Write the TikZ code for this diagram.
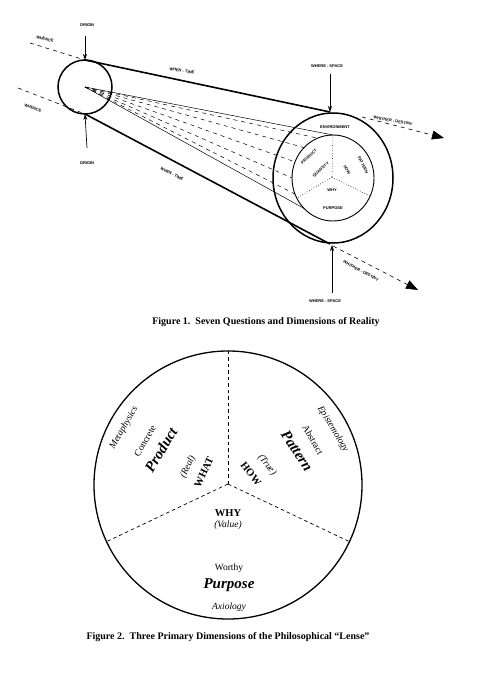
\documentclass[tikz,border=0pt]{standalone}
\usepackage{fontspec}
\setmainfont{Liberation Serif}
\newfontfamily\lsans{Liberation Sans}
\usetikzlibrary{arrows.meta,calc}
\tikzset{
  tiny/.style={font=\lsans\fontsize{4}{4}\selectfont\bfseries, inner sep=0pt},
  thickln/.style={line width=1.6pt},
  thinln/.style={line width=0.5pt},
  dash1/.style={line width=0.6pt, dash pattern=on 4pt off 4pt},
  bigtip/.style={-{Triangle[length=12pt,width=9pt]}},
  smalltip/.style={-{Stealth[length=6pt,width=4pt]}},
  lab/.style={inner sep=0pt, font=\fontsize{9.5}{9.5}\selectfont},
  itlab/.style={inner sep=0pt, font=\fontsize{9.5}{9.5}\selectfont\itshape},
  bflab/.style={inner sep=0pt, font=\fontsize{10.5}{10.5}\selectfont\bfseries},
  biglab/.style={inner sep=0pt, font=\fontsize{15}{15}\selectfont\bfseries\itshape},
  caption/.style={inner sep=0pt, font=\fontsize{10}{10}\selectfont\bfseries}
}
\begin{document}
\begin{tikzpicture}[x=1pt,y=-1pt]
\useasboundingbox (0,0) rectangle (499,674);
% ---------------- Figure 1 ----------------
\coordinate (S) at (85,87);
\coordinate (B) at (333,178);
\coordinate (Bc) at (332,177);
\draw[line width=1.5pt] (S) circle [radius=27pt];
\draw[line width=1.5pt] (B) ellipse [x radius=60pt, y radius=65pt];
\draw[line width=0.9pt] (B) ellipse [x radius=41pt, y radius=43pt];
% tangent lines
\coordinate (St) at (85,60);
\coordinate (Sb) at (85,114);
\coordinate (Bt) at (330,112);
\coordinate (Bb) at (330,244);
\draw[thickln] (St) -- (Bt);
\draw[thickln] (Sb) -- (Bb);
% whence / whither
\coordinate (Wh1) at (30,43);
\coordinate (Wh2) at (18,88);
\coordinate (Wt1s) at (362,117);
\coordinate (Wt1e) at (444,138);
\coordinate (Wt2s) at (333,246);
\coordinate (Wt2e) at (418,290);
\draw[dash1] (Wh1) -- (St);
\draw[dash1] (Wh2) -- (Sb);
\draw[dash1,bigtip] (Wt1s) -- (Wt1e);
\draw[dash1,bigtip] (Wt2s) -- (Wt2e);
% cone
\coordinate (I90) at ($(B)+(90:41pt and 43pt)$);
\coordinate (I112) at ($(B)+(112:41pt and 43pt)$);
\coordinate (I135) at ($(B)+(135:41pt and 43pt)$);
\coordinate (I158) at ($(B)+(158:41pt and 43pt)$);
\coordinate (I180) at ($(B)+(180:41pt and 43pt)$);
\coordinate (I202) at ($(B)+(202:41pt and 43pt)$);
\coordinate (I225) at ($(B)+(225:41pt and 43pt)$);
\draw[thinln] (S) -- (I90);
\draw[thinln] (S) -- (I225);
\foreach \p in {I112,I135,I158,I180,I202}
  \draw[dash1, line width=0.5pt] (S) -- (\p);
% inner dividers
\coordinate (Ia) at ($(B)+(208:41pt and 43pt)$);
\coordinate (Ib) at ($(B)+(335:41pt and 43pt)$);
\draw[dotted, line width=0.6pt] (Bc) -- (I90);
\draw[dotted, line width=0.6pt] (Bc) -- (Ia);
\draw[dotted, line width=0.6pt] (Bc) -- (Ib);
% origin arrows
\node[tiny] (o1) at (87,25) {ORIGIN};
\node[tiny] (o2) at (87,163) {ORIGIN};
\coordinate (o1s) at (85,36);
\coordinate (o2s) at (87,148);
\draw[line width=0.7pt, smalltip] (o1s) -- (St);
\draw[line width=0.7pt, smalltip] (o2s) -- (Sb);
% where arrows
\node[tiny] (w1) at (327,66) {WHERE - SPACE};
\node[tiny] (w2) at (325,301) {WHERE - SPACE};
\coordinate (w1s) at (330,74);
\coordinate (w2s) at (332,293);
\coordinate (w2e) at (332,245);
\draw[line width=0.7pt, smalltip] (w1s) -- (Bt);
\draw[line width=0.7pt, smalltip] (w2s) -- (w2e);
% line labels
\node[tiny, rotate=-15] (wc1) at (45,39) {WHENCE};
\node[tiny, rotate=-20] (wc2) at (33,108) {WHENCE};
\node[tiny, rotate=-9] (wt1) at (182,71) {WHEN - TIME};
\node[tiny, rotate=-28] (wt2) at (172,174) {WHEN - TIME};
\node[tiny, rotate=-10] (wd1) at (393,121) {WHITHER - DESTINY};
\node[tiny, rotate=-28] (wd2) at (361,271) {WHITHER - DESTINY};
% inner labels
\node[tiny] (env) at (335,127) {ENVIRONMENT};
\node[tiny, rotate=43] (prod) at (309,157) {PRODUCT};
\node[tiny, rotate=42] (quan) at (321,170) {QUANTITY};
\node[tiny, rotate=-63] (patt) at (363,165) {PATTERN};
\node[tiny, rotate=-62] (how1) at (347,170) {HOW};
\node[tiny] (why1) at (332,190) {WHY};
\node[tiny] (purp1) at (333,208) {PURPOSE};
\node[caption] (cap1) at (266,322) {Figure 1.\ \ Seven Questions and Dimensions of Reality};
% ---------------- Figure 2 ----------------
\coordinate (C2) at (228,485);
\coordinate (C2c) at (228,484);
\draw[line width=1.3pt] (C2) circle [radius=134pt];
\coordinate (D1) at ($(C2)+(90:134pt)$);
\coordinate (D2) at ($(C2)+(205:134pt)$);
\coordinate (D3) at ($(C2)+(335:134pt)$);
\draw[line width=0.7pt, dash pattern=on 3.5pt off 3pt] (C2c) -- (D1);
\draw[line width=0.7pt, dash pattern=on 3.5pt off 3pt] (C2c) -- (D2);
\draw[line width=0.7pt, dash pattern=on 3.5pt off 3pt] (C2c) -- (D3);
\node[itlab, rotate=60] (meta) at (124,428) {Metaphysics};
\node[lab, rotate=60] (conc) at (145,441) {Concrete};
\node[biglab, rotate=59] (prod2) at (161,450) {Product};
\node[itlab, rotate=65] (real) at (188,467) {(Real)};
\node[bflab, rotate=65] (what) at (204,472) {WHAT};
\node[itlab, rotate=-59] (epis) at (333,429) {Epistemology};
\node[lab, rotate=-60] (abst) at (313,440) {Abstract};
\node[biglab, rotate=-57] (patt2) at (297,451) {Pattern};
\node[itlab, rotate=-52] (true) at (267,465) {(True)};
\node[bflab, rotate=-52] (how2) at (251,474) {HOW};
\node[bflab] (why2) at (228,513) {WHY};
\node[itlab] (val) at (228,525) {(Value)};
\node[lab] (worth) at (229,568) {Worthy};
\node[biglab] (purp2) at (229,585) {Purpose};
\node[itlab] (axio) at (229,607) {Axiology};
\node[caption] (cap2) at (228,637) {Figure 2.\ \ Three Primary Dimensions of the Philosophical “Lense”};
\end{tikzpicture}
\end{document}
